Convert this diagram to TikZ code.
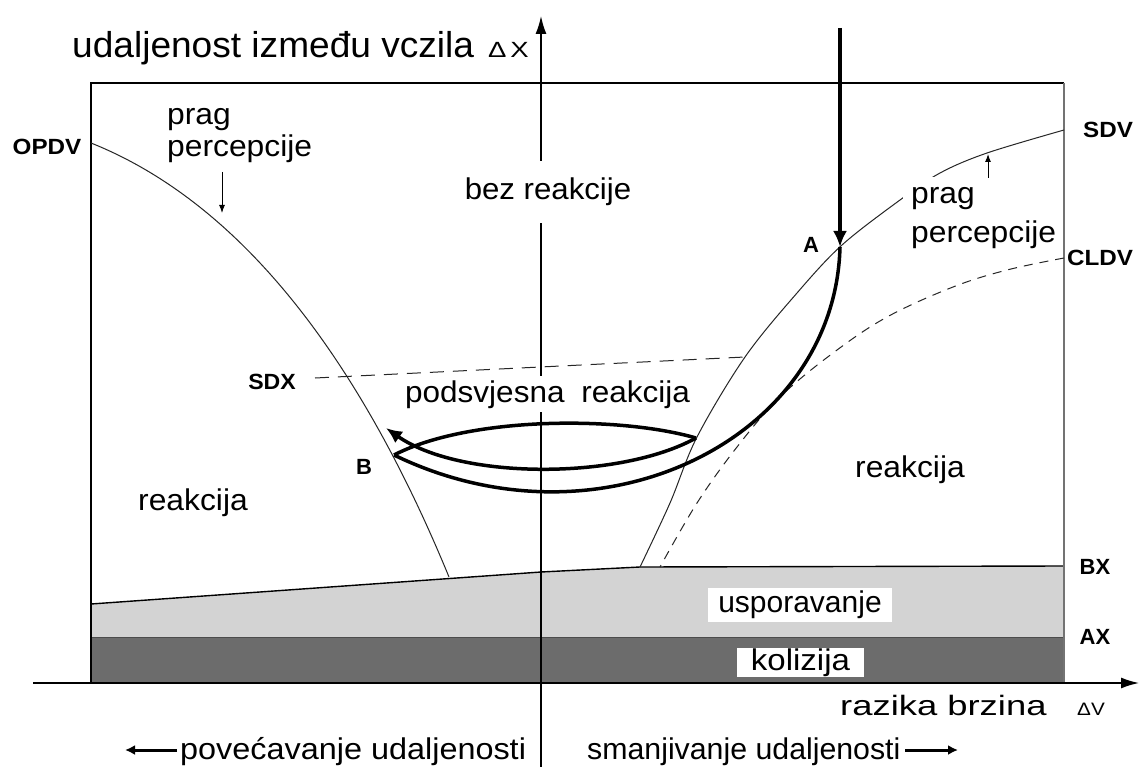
\documentclass[tikz,border=0pt]{standalone}
\usepackage{fontspec}
\setmainfont{Liberation Sans}
\usetikzlibrary{arrows.meta}
\definecolor{lgray}{RGB}{211,211,211}
\definecolor{dgray}{RGB}{108,108,108}
\newcommand\hs[2]{\scalebox{#1}[1]{#2}}
\tikzset{
  txt/.style={inner sep=0pt, font=\fontsize{30}{36}\selectfont},
  lbl/.style={inner sep=0pt, font=\fontsize{22}{26}\selectfont\bfseries},
  thincurve/.style={line width=1pt, black!85},
  traj/.style={line width=3.5pt, black},
  axisline/.style={line width=1.6pt, -{Latex[length=18pt,width=11pt]}},
  smallarrow/.style={line width=1pt, -{Latex[length=8pt,width=6pt]}},
  sidearrow/.style={line width=3pt, -{Latex[length=10pt,width=10pt]}},
}
\begin{document}
\begin{tikzpicture}[x=1pt,y=-1pt]
\useasboundingbox (0,0) rectangle (1139,767);
\fill[white] (0,0) rectangle (1139,767);

% bands
\fill[lgray] (91,604) -- (541,572) -- (640,567) -- (1064,566) -- (1064,637) -- (91,637) -- cycle;
\fill[dgray] (91,637) rectangle (1064,683);
\draw[line width=1.4pt] (91,604) -- (541,572) -- (640,567) -- (1064,566);
\draw[line width=1pt, black!70] (91,637) -- (1064,637);

% frame
\draw[line width=1.6pt] (91,683) -- (91,83) -- (1064,83);
\draw[line width=1.2pt, black!55] (1064,83) -- (1064,683);

% axes
\coordinate (yb) at (541,767);
\coordinate (yt) at (541,16);
\coordinate (xl) at (33,683);
\coordinate (xr) at (1139,683);
\draw[axisline] (yb) -- (yt);
\draw[axisline] (xl) -- (xr);

% OPDV curve
\coordinate (opdvS) at (91,143);
\coordinate (opdvE) at (449,577);
\draw[thincurve] (opdvS) .. controls (241,203) and (359,358) .. (opdvE);
% SDV curve
\draw[thincurve] plot[smooth, tension=0.55] coordinates {(640,567) (670,503) (697,437) (745,357) (797,293) (842,245) (900,200) (940,173) (987,153) (1064,130)};
% CLDV curve
\draw[thincurve, dash pattern=on 9pt off 7pt] plot[smooth, tension=0.6] coordinates {(1064,258) (1007,270) (953,287) (887,317) (833,353) (780,397) (737,447) (697,503) (660,567)};
% SDX line
\coordinate (sdxL) at (315,378);
\coordinate (sdxR) at (745,357);
\draw[thincurve, dash pattern=on 14pt off 9pt] (sdxL) -- (sdxR);

% perception arrows
\coordinate (pl1) at (222,172);
\coordinate (pl2) at (222,213);
\draw[smallarrow] (pl1) -- (pl2);
\coordinate (pr1) at (988,178);
\coordinate (pr2) at (988,154);
\draw[smallarrow] (pr1) -- (pr2);

% trajectory
\coordinate (top) at (840,28);
\coordinate (A) at (840,247);
\coordinate (B) at (394,455);
\coordinate (R) at (696,438);
\coordinate (T) at (386,428);
\draw[traj, -{Latex[length=16pt,width=14pt]}] (top) -- (A);
\draw[traj] (A) .. controls (835,440) and (600,555) .. (B);
\draw[traj] (B) .. controls (470,416) and (620,416) .. (R);
\draw[traj, -{Latex[length=16pt,width=14pt]}] (R) .. controls (620,480) and (460,480) .. (T);

% texts
\node[anchor=base west, inner sep=0pt, font=\fontsize{36}{40}\selectfont] (title) at (72,58) {\hs{1.03}{udaljenost između vczila}};
\node[anchor=base west, inner sep=0pt, font=\fontsize{22}{26}\selectfont] (dX) at (488,58) {\hs{1.25}{Δ\kern3pt X}};

\node[txt, anchor=base, fill=white, inner xsep=4pt, inner ysep=17pt] (bez) at (548,200) {\hs{1.04}{bez reakcije}};
\node[txt, anchor=base west] (pragL) at (167,125) {\hs{1.06}{prag}};
\node[txt, anchor=base west] (percL) at (167,157) {\hs{1.06}{percepcije}};
\node[txt, anchor=base west, fill=white, inner xsep=8pt, inner ysep=2pt] (pragR) at (903,204) {\strut\hs{1.06}{prag}};
\node[txt, anchor=base west, fill=white, inner xsep=1pt, inner ysep=2pt] (percR) at (910,243) {\hs{1.06}{percepcije}};
\node[txt, anchor=base west, fill=white, inner xsep=2pt, inner ysep=4pt] (pods) at (403,402) {\hs{1.05}{podsvjesna\hspace{16pt}reakcija}};
\node[txt, anchor=base west] (reakL) at (138,510) {\hs{1.06}{reakcija}};
\node[txt, anchor=base west] (reakR) at (855,477) {\hs{1.06}{reakcija}};
\node[txt, fill=white, minimum width=184pt, minimum height=34pt] (usp) at (800,605) {usporavanje};
\node[txt, fill=white, minimum width=127pt, minimum height=29pt] (kol) at (800.5,662.5) {\hs{1.1}{kolizija}};
\node[anchor=base west, inner sep=0pt, font=\fontsize{28}{32}\selectfont] (razika) at (840,715) {\hs{1.3}{razika brzina}};
\node[anchor=base west, inner sep=0pt, font=\fontsize{18}{20}\selectfont] (dV) at (1077,715) {\hs{1.15}{ΔV}};

\node[txt, anchor=base west] (pov) at (180,759) {\hs{1.08}{povećavanje udaljenosti}};
\node[txt, anchor=base west] (sma) at (587,759) {\hs{1.01}{smanjivanje udaljenosti}};
\coordinate (pa1) at (177,750);
\coordinate (pa2) at (125,750);
\draw[sidearrow] (pa1) -- (pa2);
\coordinate (sa1) at (905,750);
\coordinate (sa2) at (958,750);
\draw[sidearrow] (sa1) -- (sa2);

% bold labels
\node[lbl] (opdv) at (47,147) {\hs{1.1}{OPDV}};
\node[lbl] (sdv) at (1108,130) {\hs{1.1}{SDV}};
\node[lbl] (cldv) at (1100,258) {\hs{1.1}{CLDV}};
\node[lbl] (sdx) at (272,382) {\hs{1.05}{SDX}};
\node[lbl] (lA) at (811,245) {A};
\node[lbl] (lB) at (364,467) {B};
\node[lbl] (bx) at (1095,567) {BX};
\node[lbl] (ax) at (1095,637) {AX};
\end{tikzpicture}
\end{document}
